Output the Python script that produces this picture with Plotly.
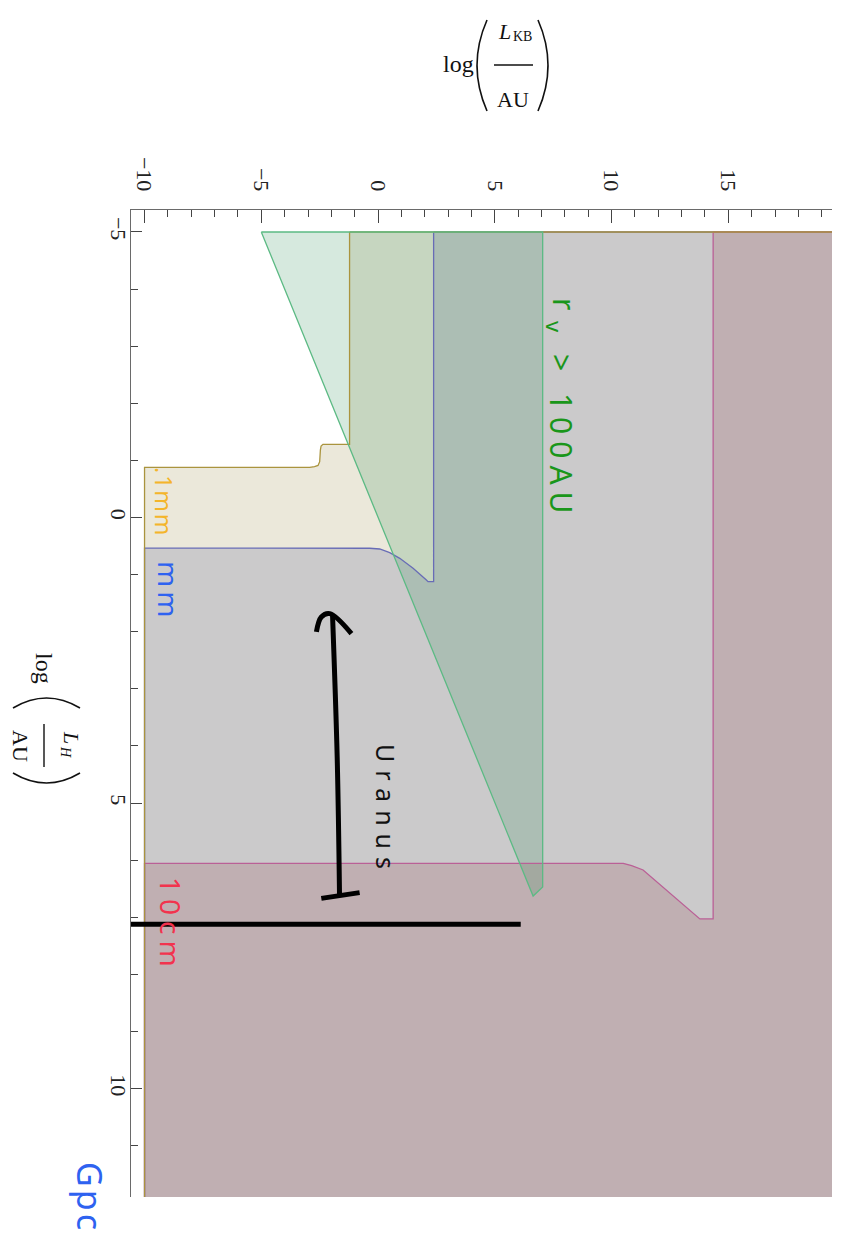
import plotly.graph_objects as go

# ---------------- data (log L_KB horizontal, log L_H vertical, downward) ----------------
# ".1mm" region (olive)
olive_kb = [-1.22, -1.22, -2.36, -2.44, -2.47, -2.50, -2.57, -2.72, -2.93, -10.0, -10.0, 21.0, 21.0, -1.22]
olive_h = [-5.0, -1.282, -1.282, -1.252, -1.18, -0.977, -0.911, -0.89, -0.879, -0.879, 13.0, 13.0, -5.0, -5.0]
# "mm" region (blue)
blue_kb = [2.38, 2.38, 2.14, 2.07, 1.50, 0.93, 0.50, 0.07, -0.36, -10.0, -10.0, 21.0, 21.0, 2.38]
blue_h = [-5.0, 1.124, 1.124, 1.095, 0.89, 0.715, 0.616, 0.552, 0.539, 0.535, 13.0, 13.0, -5.0, -5.0]
# "10cm" region (maroon)
maroon_kb = [14.35, 14.35, 13.78, 11.35, 10.86, 10.50, -10.0, -10.0, 21.0, 21.0, 14.35]
maroon_h = [-5.0, 7.03, 7.03, 6.173, 6.098, 6.056, 6.056, 13.0, 13.0, -5.0, -5.0]
# "r_v > 100AU" region (green)
green_kb = [-5.0, 6.64, 7.05, 7.05, -5.0]
green_h = [-5.0, 6.63, 6.47, -5.0, -5.0]

# hand-drawn marks
uranus_shaft_kb = [-1.65, -1.75, -1.95]
uranus_shaft_h = [6.62, 4.2, 1.70]
uranus_head_kb = [-2.64, -2.43, -2.07, -1.14]
uranus_head_h = [2.004, 1.742, 1.683, 2.033]
uranus_bar_kb = [-2.43, -0.79]
uranus_bar_h = [6.67, 6.57]
cut_kb = [-10.6, 6.11]
cut_h = [7.124, 7.124]

kb_ticks = [-10, -5, 0, 5, 10, 15]
h_ticks = [-5, 0, 5, 10]
kb_range = [-10.58, 19.44]
h_range = [11.9, -5.385]

# ---------------- layout geometry ----------------
W, H = 843, 1247
ML, MR, MT, MB = 131, 11, 210, 50


def pxx(px):
    return (px - ML) / (W - ML - MR)


def pxy(py):
    return (H - MB - py) / (H - MT - MB)


fig = go.Figure()

regions = {
    "olive": (olive_kb, olive_h, "rgb(170,148,62)", "rgba(155,140,70,0.2)"),
    "blue": (blue_kb, blue_h, "rgb(104,108,182)", "rgba(75,87,143,0.2)"),
    "maroon": (maroon_kb, maroon_h, "rgb(186,96,150)", "rgba(148,68,78,0.2)"),
    "green": (green_kb, green_h, "rgb(92,186,132)", "rgba(50,145,90,0.2)"),
}

# fills first
for key in ["olive", "blue", "maroon", "green"]:
    kb, h, lc, fc = regions[key]
    fig.add_trace(go.Scatter(x=kb, y=h, mode="lines", fill="toself", fillcolor=fc,
                             line=dict(color="rgba(0,0,0,0)", width=0),
                             hoverinfo="skip", showlegend=False))
# boundary lines on top
for key in ["blue", "maroon", "olive", "green"]:
    kb, h, lc, fc = regions[key]
    fig.add_trace(go.Scatter(x=kb, y=h, mode="lines",
                             line=dict(color=lc, width=1.3),
                             hoverinfo="skip", showlegend=False))

for xs, ys in [(uranus_shaft_kb, uranus_shaft_h), (uranus_head_kb, uranus_head_h),
               (uranus_bar_kb, uranus_bar_h), (cut_kb, cut_h)]:
    fig.add_trace(go.Scatter(x=xs, y=ys, mode="lines",
                             line=dict(color="black", width=5, shape="spline"),
                             hoverinfo="skip", showlegend=False))

serif = "Liberation Serif"
hand = "Noto Sans"

ann = []


def text(px, py, s, size, color, angle=0, family=serif, style="normal"):
    ann.append(dict(x=pxx(px), y=pxy(py), xref="paper", yref="paper", text=s,
                    showarrow=False, textangle=angle, xanchor="center", yanchor="middle",
                    font=dict(family=family, size=size, color=color, style=style)))


# top axis title  log(L_KB / AU)
text(458, 64, "log", 24, "#111")
text(505, 31, "L", 22, "#111", style="italic")
text(522, 37, "KB", 14, "#111")
text(513, 100, "AU", 22, "#111")
# left axis title (rotated)
text(44, 668, "log", 24, "#111", 90)
text(72, 737, "L", 22, "#111", 90, style="italic")
text(66, 752, "H", 14, "#111", 90, style="italic")
text(20, 746, "AU", 22, "#111", 90)

# handwritten labels
text(565, 304, "r", 30, "#1a961a", 90, hand)
text(555, 327, "v", 22, "#1a961a", 90, hand)
text(562, 437, '<span style="letter-spacing:7px">&gt; 100AU</span>', 30, "#1a961a", 90, hand)
text(164, 502, '<span style="letter-spacing:2px">.1mm</span>', 23, "#f4b52a", 90, hand)
text(169, 591, '<span style="letter-spacing:4px">mm</span>', 28, "#2e62f0", 90, hand)
text(171, 925, '<span style="letter-spacing:6px">10cm</span>', 28, "#f2334e", 90, hand)
text(90, 1197, '<span style="letter-spacing:3px">Gpc</span>', 34, "#2e62f0", 90, hand)
text(386, 810, '<span style="letter-spacing:8px">Uranus</span>', 25, "#111", 90, hand)

shapes = []


def paren(xe, xc, ytop, ybot):
    ymid = (ytop + ybot) / 2
    path = "M {:.5f},{:.5f} Q {:.5f},{:.5f} {:.5f},{:.5f}".format(
        pxx(xe), pxy(ytop), pxx(xc), pxy(ymid), pxx(xe), pxy(ybot))
    shapes.append(dict(type="path", xref="paper", yref="paper", path=path,
                       line=dict(color="#111", width=1.6)))


def hparen(ye, yc, xl, xr):
    xmid = (xl + xr) / 2
    path = "M {:.5f},{:.5f} Q {:.5f},{:.5f} {:.5f},{:.5f}".format(
        pxx(xl), pxy(ye), pxx(xmid), pxy(yc), pxx(xr), pxy(ye))
    shapes.append(dict(type="path", xref="paper", yref="paper", path=path,
                       line=dict(color="#111", width=1.6)))


paren(487, 467, 20, 111)
paren(538, 558, 20, 111)
shapes.append(dict(type="line", xref="paper", yref="paper",
                   x0=pxx(494), x1=pxx(533), y0=pxy(65), y1=pxy(65),
                   line=dict(color="#111", width=1.4)))
hparen(708, 688, 13, 80)
hparen(773, 793, 13, 80)
shapes.append(dict(type="line", xref="paper", yref="paper",
                   x0=pxx(44), x1=pxx(44), y0=pxy(724), y1=pxy(767),
                   line=dict(color="#111", width=1.4)))

axis_common = dict(showgrid=False, zeroline=False, showline=True, linecolor="#6a6a6a",
                   linewidth=1, ticks="inside", tickcolor="#444", tickwidth=1,
                   tickangle=90, tickfont=dict(family=serif, size=22, color="#222"),
                   mirror=False)

fig.update_layout(
    width=W, height=H, margin=dict(l=ML, r=MR, t=MT, b=MB, pad=0),
    paper_bgcolor="white", plot_bgcolor="white",
    xaxis=dict(range=kb_range, side="top", tickvals=kb_ticks, ticklen=13,
               ticklabelstandoff=10,
               minor=dict(ticks="inside", ticklen=7, dtick=1, tick0=0,
                          tickcolor="#444", showgrid=False),
               **axis_common),
    yaxis=dict(range=h_range, tickvals=h_ticks, ticklen=11,
               ticklabelstandoff=-7,
               minor=dict(ticks="inside", ticklen=7, dtick=1, tick0=0,
                          tickcolor="#444", showgrid=False),
               **axis_common),
    annotations=ann, shapes=shapes, showlegend=False,
)

fig.write_html("out.html")
